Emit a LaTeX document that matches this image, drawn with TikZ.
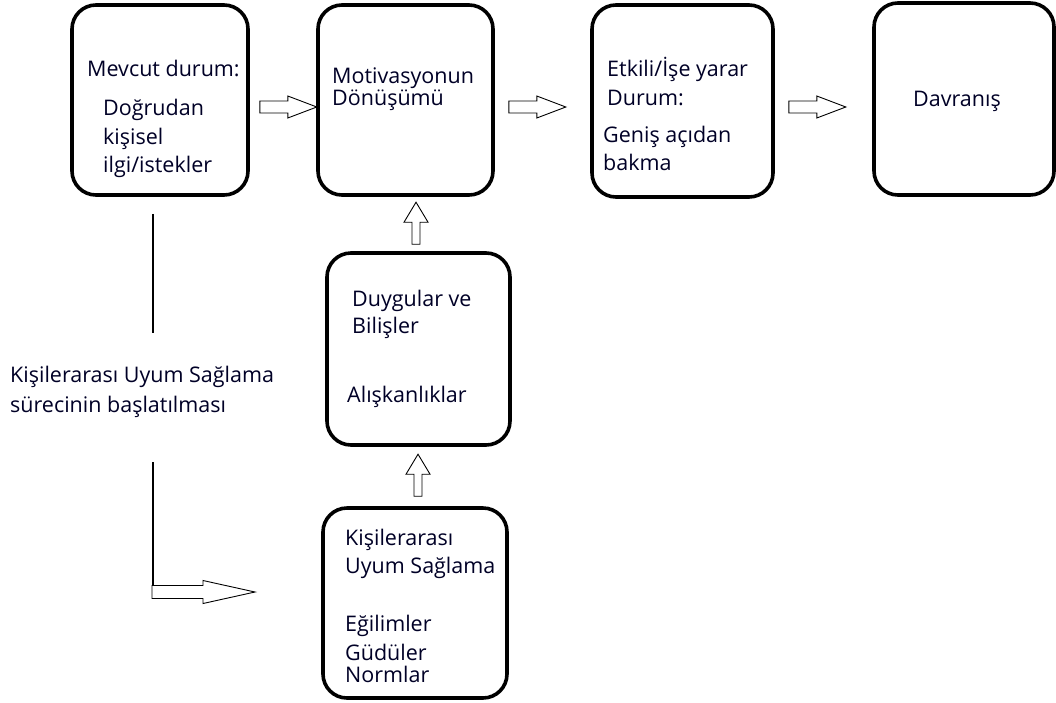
\documentclass[tikz,border=0pt]{standalone}
\usepackage{fontspec}
\setmainfont{Open Sans}
\usetikzlibrary{calc}
\tikzset{
  box/.style={draw, line width=3.6pt, rounded corners=24pt, minimum width=#1, inner sep=0pt},
  txt/.style={anchor=base west, inner sep=0pt, font=\fontsize{21.5}{24}\selectfont, text=black!85!blue},
  link/.style={draw, line width=1.2pt},
  harrow/.pic={\draw[line width=0.9pt, line join=miter] (0,-6) -- (28,-6) -- (28,-11) -- (57,0) -- (28,11) -- (28,6) -- (0,6) -- cycle;},
  varrow/.pic={\draw[line width=0.9pt, line join=miter] (-4,0) -- (-4,-22) -- (-12,-22) -- (0,-42) -- (12,-22) -- (4,-22) -- (4,0) -- cycle;},
  larrow/.pic={\draw[line width=0.9pt, line join=miter] (0,-6.5) -- (51,-6.5) -- (51,-11.5) -- (103,0) -- (51,11.5) -- (51,6.5) -- (0,6.5) -- cycle;}
}
\begin{document}
\begin{tikzpicture}[x=1pt, y=-1pt]
\useasboundingbox (0,0) rectangle (1056,702);
% boxes
\node[box=176pt, minimum height=190pt] (b1) at (160,100) {};
\node[box=175pt, minimum height=190pt] (b2) at (405.5,100) {};
\node[box=181pt, minimum height=192pt] (b3) at (682.5,101) {};
\node[box=180pt, minimum height=192pt] (b4) at (964,99) {};
\node[box=183pt, minimum height=192pt] (b5) at (418.5,349) {};
\node[box=184pt, minimum height=190pt] (b6) at (415,603) {};
% texts
\node[txt] (t1a) at (87,76) {Mevcut durum:};
\node[txt] (t1b) at (103,115) {Doğrudan};
\node[txt] (t1c) at (103,144) {kişisel};
\node[txt] (t1d) at (103,172) {ilgi/istekler};
\node[txt] (t2a) at (332,83) {Motivasyonun};
\node[txt] (t2b) at (332,105) {Dönüşümü};
\node[txt] (t3a) at (607,76) {Etkili/İşe yarar};
\node[txt] (t3b) at (607,105) {Durum:};
\node[txt] (t3c) at (603,142) {Geniş açıdan};
\node[txt] (t3d) at (603,170) {bakma};
\node[txt] (t4a) at (913,106) {Davranış};
\node[txt] (t5a) at (352,306) {Duygular ve};
\node[txt] (t5b) at (352,333) {Bilişler};
\node[txt] (t5c) at (347,402) {Alışkanlıklar};
\node[txt] (t6a) at (345,545) {Kişilerarası};
\node[txt] (t6b) at (345,573) {Uyum Sağlama};
\node[txt] (t6c) at (345,631) {Eğilimler};
\node[txt] (t6d) at (345,660) {Güdüler};
\node[txt] (t6e) at (345,682) {Normlar};
\node[txt] (lab1) at (10,382) {Kişilerarası Uyum Sağlama};
\node[txt] (lab2) at (10,412) {sürecinin başlatılması};
% block arrows
\pic at ($(b1.east)+(10,7)$) {harrow};
\pic at ($(b2.east)+(14,7)$) {harrow};
\pic at ($(b3.east)+(14,6)$) {harrow};
\pic at ($(b5.north)+(-2.5,-7)$) {varrow};
\pic at ($(b6.north)+(3,-10)$) {varrow};
% left connector
\coordinate (l1) at ($(b1.south)+(-7,17)$);
\coordinate (l2) at (153,333);
\coordinate (l3) at (153,462);
\coordinate (l4) at (153,586);
\draw[link] (l1) -- (l2);
\draw[link] (l3) -- (l4);
\pic at (152,592) {larrow};
\end{tikzpicture}
\end{document}
